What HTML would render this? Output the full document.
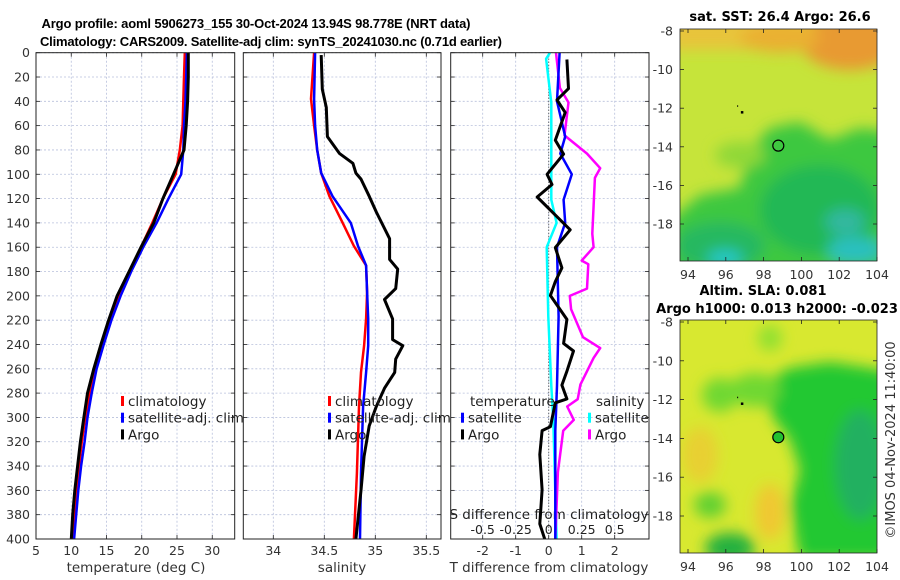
<!DOCTYPE html>
<html><head><meta charset="utf-8">
<style>
html,body{margin:0;padding:0;background:#fff;}
svg{display:block;font-family:"DejaVu Sans","Liberation Sans",sans-serif;}
</style></head>
<body>
<svg id="fig" width="900" height="580" viewBox="0 0 900 580" xmlns="http://www.w3.org/2000/svg">
<defs>
<filter id="blur1" x="-10%" y="-10%" width="120%" height="120%"><feGaussianBlur stdDeviation="7"/></filter>
<clipPath id="clipTop"><rect x="680" y="29" width="197" height="232"/></clipPath>
<clipPath id="clipBot"><rect x="680" y="320" width="197" height="233"/></clipPath>
<clipPath id="clipP1"><rect x="36" y="52.7" width="198.7" height="486.3"/></clipPath>
<clipPath id="clipP2"><rect x="243.3" y="52.7" width="197.7" height="486.3"/></clipPath>
<clipPath id="clipP3"><rect x="450.7" y="52.7" width="198.3" height="486.3"/></clipPath>
</defs>
<text x="256" y="28" text-anchor="middle" font-size="13" font-weight="bold" font-family="Liberation Sans, sans-serif" textLength="429">Argo profile: aoml 5906273_155 30-Oct-2024 13.94S 98.778E (NRT data)</text>
<text x="271" y="46" text-anchor="middle" font-size="13" font-weight="bold" font-family="Liberation Sans, sans-serif" textLength="462">Climatology: CARS2009. Satellite-adj clim: synTS_20241030.nc (0.71d earlier)</text>

<g id="maps">
  <g clip-path="url(#clipTop)">
    <rect x="680" y="29" width="197" height="232" fill="#c6e43a"/>
    <g filter="url(#blur1)">
      <rect x="670" y="15" width="220" height="35" fill="#e8c43a"/>
      <ellipse cx="850" cy="42" rx="50" ry="28" fill="#e89a30"/>
      <ellipse cx="780" cy="38" rx="40" ry="15" fill="#eab030"/>
      <polygon points="750,150 770,128 800,122 830,140 860,128 890,132 890,280 670,280 670,220 700,195 740,188" fill="#3cc840"/>
      <ellipse cx="740" cy="155" rx="25" ry="13" fill="#90d838"/>
      <ellipse cx="820" cy="210" rx="60" ry="45" fill="#24b854"/>
      <ellipse cx="720" cy="246" rx="45" ry="24" fill="#28b860"/>
      <ellipse cx="725" cy="258" rx="18" ry="8" fill="#28c8cc"/>
      <ellipse cx="855" cy="250" rx="28" ry="13" fill="#2cc0c0"/>
      <ellipse cx="845" cy="222" rx="20" ry="13" fill="#30b8a0"/>
    </g>
  </g>
  <g clip-path="url(#clipBot)">
    <rect x="680" y="320" width="197" height="233" fill="#d8e830"/>
    <g filter="url(#blur1)">
      <polygon points="760,385 790,368 830,362 870,368 890,372 890,560 800,560 790,505 800,470 790,440 775,420" fill="#22c830"/>
      <ellipse cx="860" cy="465" rx="25" ry="55" fill="#20b060"/>
      <ellipse cx="755" cy="390" rx="25" ry="17" fill="#70d830"/>
      <ellipse cx="720" cy="395" rx="18" ry="17" fill="#70d830"/>
      <ellipse cx="710" cy="505" rx="16" ry="13" fill="#60d030"/>
      <ellipse cx="730" cy="548" rx="25" ry="15" fill="#20b040"/>
      <ellipse cx="770" cy="512" rx="15" ry="28" fill="#f0c830"/>
      <ellipse cx="700" cy="455" rx="18" ry="28" fill="#e8d030"/>
      <ellipse cx="770" cy="338" rx="12" ry="13" fill="#90e030"/>
    </g>
  </g>
  <rect x="680" y="29" width="197" height="232" fill="none" stroke="#222" stroke-width="0.8"/>
  <rect x="680" y="320" width="197" height="233" fill="none" stroke="#222" stroke-width="0.8"/>
  <text x="780" y="21" text-anchor="middle" font-size="13" font-weight="bold">sat. SST: 26.4 Argo: 26.6</text>
  <text x="763" y="295" text-anchor="middle" font-size="13" font-weight="bold">Altim. SLA: 0.081</text>
  <text x="777" y="313" text-anchor="middle" font-size="13" font-weight="bold">Argo h1000: 0.013 h2000: -0.023</text>
  <text transform="translate(895,440) rotate(-90)" text-anchor="middle" font-size="13" fill="#333">©IMOS 04-Nov-2024 11:40:00</text>
</g>
<g id="plots"></g>
</svg>
<script>
// ---- data ----
const climDepth = [0,20,40,60,80,100,120,140,160,180,200,220,240,260,280,300,320,340,360,380,400];
const climTemp  = [26.1,26.0,25.9,25.8,25.4,24.8,23.0,21.5,19.9,18.4,16.8,15.5,14.4,13.4,12.6,12.0,11.5,11.1,10.7,10.4,10.1];
const satTemp   = [26.4,26.3,26.2,26.0,25.9,25.6,23.8,22.1,20.2,18.5,17.0,15.7,14.6,13.6,12.9,12.3,11.9,11.4,11.0,10.7,10.4];
const argoTemp  = [26.6,26.6,26.5,26.3,26.0,24.5,23.0,21.7,19.9,18.2,16.5,15.3,14.2,13.2,12.3,11.8,11.3,10.9,10.5,10.2,10.0];
const salDepth  = [0,38,60,80,99,118,140,159,175,197,219,241,263,291,346,400];
const climSal   = [34.40,34.37,34.40,34.43,34.47,34.55,34.68,34.79,34.91,34.92,34.91,34.89,34.86,34.84,34.82,34.79];
const satSal    = [34.41,34.40,34.41,34.43,34.47,34.58,34.76,34.83,34.91,34.92,34.93,34.93,34.91,34.88,34.86,34.85];
const argoSalDepth = [2,30,45,69,83,91,99,104,118,131,153,170,178,194,203,219,236,241,252,263,276,291,307,332,360,400];
const argoSal   = [34.47,34.48,34.52,34.53,34.65,34.78,34.81,34.86,34.94,35.01,35.14,35.14,35.22,35.20,35.09,35.17,35.17,35.27,35.20,35.19,35.09,35.01,34.94,34.89,34.86,34.81];
const satTdDepth = [0,40,69,83,100,121,140,160,217,274,311,400];
const satTdiff   = [0.33,0.25,0.5,0.35,0.7,0.45,0.5,0.25,0.3,0.25,0.2,0.2];
const argoTdDepth = [5.6,29.5,38.8,49.2,72,83.4,100,108.4,118.7,132.2,145.7,160.3,176.9,188.3,199.7,219.4,239.1,245.4,262,273.4,284.8,288,307.6,310.8,330.5,359.5,387.6,400];
const argoTdiff   = [0.55,0.6,0.25,0.5,0.2,0.45,-0.05,0.1,-0.35,0.15,0.65,0.2,0.4,0.2,0.05,0.55,0.45,0.75,0.55,0.4,0.55,0.2,0.05,-0.2,-0.27,-0.2,-0.27,-0.12];
const satSdDepth = [0,5,41,83,121,140,160,217,274,302,400];
const satSdiff   = [0.01,-0.02,0.02,0.02,0.02,0.06,-0.015,-0.003,0.02,0.035,0.06];
const argoSdDepth = [0,29,41,68,83,95,103,126,149,160,171,174,194,200,211,234,243,251,273,285,291,302,311,345,400];
const argoSdiff   = [0.055,0.085,0.15,0.12,0.29,0.39,0.35,0.34,0.33,0.34,0.25,0.30,0.29,0.16,0.17,0.26,0.39,0.34,0.24,0.22,0.14,0.19,0.11,0.07,0.05];
const depthTicks = [0,20,40,60,80,100,120,140,160,180,200,220,240,260,280,300,320,340,360,380,400];
const tempTicks = [5,10,15,20,25,30];
const salTicks = [34,34.5,35,35.5];
const tdTicks = [-2,-1,0,1,2];
const sdTicks = [-0.5,-0.25,0,0.25,0.5];
const sdTickLabels = ['-0.5','-0.25','0','0.25','0.5'];
const mapLonTicks = [94,96,98,100,102,104];
const mapLatTicks = [-8,-10,-12,-14,-16,-18];
const floatLon = [98.778];
const floatLat = [-13.94];

// ---- scales ----
const Y0=52.7, Y1=539;
const yD = d => Y0 + d*(Y1-Y0)/400;
const xT = t => 36 + (t-5)*7.05;
const xS = s => 375.3 + (s-35)*102;
const xTd = v => 548.7 + v*33;
const xSd = v => 548.7 + v*132;
const lonX = l => 688 + (l-94)*18.9;
const latTop = l => 31 + (-8-l)*19.3;
const latBot = l => 322 + (-8-l)*19.4;

const NS='http://www.w3.org/2000/svg';
const plots=document.getElementById('plots');
const maps=document.getElementById('maps');
function mk(tag, attrs, parent){const e=document.createElementNS(NS,tag);for(const k in attrs)e.setAttribute(k,attrs[k]);(parent||plots).appendChild(e);return e;}
function txt(str,attrs,parent){const e=mk('text',attrs,parent);e.textContent=str;return e;}

const panels=[{x0:36,x1:234.7,clip:'clipP1',name:'temperature-panel'},{x0:243.3,x1:441,clip:'clipP2',name:'salinity-panel'},{x0:450.7,x1:649,clip:'clipP3',name:'difference-panel'}];
const grids=[tempTicks.map(xT),salTicks.map(xS),tdTicks.map(xTd)];
panels.forEach((p,i)=>{
  const g=mk('g',{});
  
  
  depthTicks.forEach(d=>{
    const l=mk('line',{x1:p.x0,x2:p.x1,y1:yD(d),y2:yD(d),stroke:'#b8c0dc','stroke-width':0.8,'stroke-dasharray':'2,2'},g);
    
    
    mk('line',{x1:p.x0,x2:p.x0+4,y1:yD(d),y2:yD(d),stroke:'#222','stroke-width':0.8},g);
    mk('line',{x1:p.x1-4,x2:p.x1,y1:yD(d),y2:yD(d),stroke:'#222','stroke-width':0.8},g);
  });
  grids[i].forEach(x=>{
    const l=mk('line',{x1:x,x2:x,y1:Y0,y2:Y1,stroke:'#b8c0dc','stroke-width':0.8,'stroke-dasharray':'2,2'},g);
    
    
    mk('line',{x1:x,x2:x,y1:Y1-4,y2:Y1,stroke:'#222','stroke-width':0.8},g);
    mk('line',{x1:x,x2:x,y1:Y0,y2:Y0+4,stroke:'#222','stroke-width':0.8},g);
  });
});
depthTicks.forEach(d=>{
  const t=txt(String(d),{x:30,y:yD(d)+4.5,'text-anchor':'end','font-size':12.5,fill:'#333'});
  
  
});
tempTicks.forEach(v=>{const t=txt(String(v),{x:xT(v),y:555,'text-anchor':'middle','font-size':12.5,fill:'#333'});
  });
salTicks.forEach(v=>{const t=txt(String(v),{x:xS(v),y:555,'text-anchor':'middle','font-size':12.5,fill:'#333'});
  });
tdTicks.forEach(v=>{const t=txt(String(v),{x:xTd(v),y:555,'text-anchor':'middle','font-size':12.5,fill:'#333'});
  });
sdTicks.forEach((v,i)=>{const t=txt(sdTickLabels[i],{x:xSd(v),y:534,'text-anchor':'middle','font-size':12.5,fill:'#222'});
  });
let t;
t=txt('temperature (deg C)',{x:136,y:572,'text-anchor':'middle','font-size':13.5,fill:'#333'});

t=txt('salinity',{x:342,y:572,'text-anchor':'middle','font-size':13.5,fill:'#333'});

t=txt('T difference from climatology',{x:549,y:572,'text-anchor':'middle','font-size':13.5,fill:'#333'});

t=txt('S difference from climatology',{x:549,y:519,'text-anchor':'middle','font-size':13.5,fill:'#222'});


const zl=mk('line',{x1:xTd(0),x2:xTd(0),y1:Y0,y2:Y1,stroke:'#444','stroke-width':1,'stroke-dasharray':'1,2'});



function series(depths, vals, xf, color, name, clip, w){
  const pts=depths.map((d,i)=>xf(vals[i]).toFixed(1)+','+yD(d).toFixed(1)).join(' ');
  const p=mk('polyline',{points:pts,fill:'none',stroke:color,'stroke-width':w||2.5,'stroke-linejoin':'round','clip-path':'url(#'+clip+')'});
  
  
}
series(climDepth, climTemp, xT, '#ff0000', 'climatology-temperature-line', 'clipP1');
series(climDepth, satTemp, xT, '#0000ff', 'satellite-temperature-line', 'clipP1');
series(climDepth, argoTemp, xT, '#000000', 'argo-temperature-line', 'clipP1', 3);
series(salDepth, climSal, xS, '#ff0000', 'climatology-salinity-line', 'clipP2');
series(salDepth, satSal, xS, '#0000ff', 'satellite-salinity-line', 'clipP2');
series(argoSalDepth, argoSal, xS, '#000000', 'argo-salinity-line', 'clipP2', 3);
series(satSdDepth, satSdiff, xSd, '#00ffff', 'satellite-salinity-diff-line', 'clipP3');
series(argoSdDepth, argoSdiff, xSd, '#ff00ff', 'argo-salinity-diff-line', 'clipP3');
series(satTdDepth, satTdiff, xTd, '#0000ff', 'satellite-temperature-diff-line', 'clipP3');
series(argoTdDepth, argoTdiff, xTd, '#000000', 'argo-temperature-diff-line', 'clipP3', 3);

panels.forEach(p=>{
  const r=mk('rect',{x:p.x0,y:Y0,width:p.x1-p.x0,height:Y1-Y0,fill:'none',stroke:'#222','stroke-width':1});
  
  
});

function legend(x, y, items, name){
  const g=mk('g',{});
  
  
  items.forEach((it,i)=>{
    const yy=y+i*16.7;
    if(it[1]) mk('rect',{x:x,y:yy-10,width:3,height:10,fill:it[1]},g);
    const tt=txt(it[0],{x:x+(it[1]?7:0),y:yy,'font-size':13.5,fill:'#222'},g);
    
    
  });
}
legend(121,406,[['climatology','#ff0000'],['satellite-adj. clim','#0000ff'],['Argo','#000000']],'temperature-legend');
legend(328,406,[['climatology','#ff0000'],['satellite-adj. clim','#0000ff'],['Argo','#000000']],'salinity-legend');
legend(470,406,[['temperature',null]],'diff-legend-temperature-header');
legend(461,422.7,[['satellite','#0000ff'],['Argo','#000000']],'diff-legend-temperature');
legend(596,406,[['salinity',null]],'diff-legend-salinity-header');
legend(588,422.7,[['satellite','#00ffff'],['Argo','#ff00ff']],'diff-legend-salinity');

[[latTop,29,261,279],[latBot,320,553,571]].forEach((m,k)=>{
  const [lf,top,bot,ly]=m;
  mapLatTicks.forEach(v=>{
    const y=lf(v);
    mk('line',{x1:680,x2:684,y1:y,y2:y,stroke:'#222','stroke-width':0.8},maps);
    mk('line',{x1:873,x2:877,y1:y,y2:y,stroke:'#222','stroke-width':0.8},maps);
    const tt=txt(String(v),{x:673,y:y+4.5,'text-anchor':'end','font-size':12.5,fill:'#333'},maps);
    
    
  });
  mapLonTicks.forEach(v=>{
    const x=lonX(v);
    mk('line',{x1:x,x2:x,y1:bot-4,y2:bot,stroke:'#222','stroke-width':0.8},maps);
    mk('line',{x1:x,x2:x,y1:top,y2:top+4,stroke:'#222','stroke-width':0.8},maps);
    const tt=txt(String(v),{x:x,y:ly,'text-anchor':'middle','font-size':12.5,fill:'#333'},maps);
    
    
  });
  const c=mk('circle',{cx:lonX(floatLon[0]),cy:lf(floatLat[0]),r:5.5,fill:k?'#22c030':'none',stroke:'#000','stroke-width':1.2},maps);
  
  
  mk('rect',{x:lonX(96.85)-1,y:lf(-12.2)-1,width:2.5,height:2.5,fill:'#000'},maps);
  mk('rect',{x:lonX(96.6),y:lf(-11.85),width:1,height:1.5,fill:'#000'},maps);
});
</script>
</body></html>
